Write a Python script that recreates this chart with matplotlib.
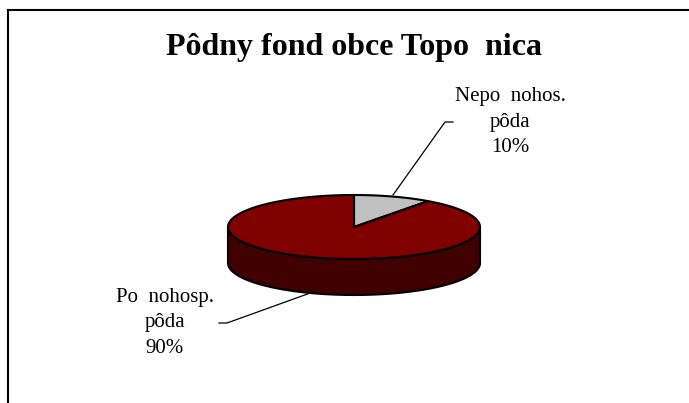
import matplotlib
matplotlib.use('Agg')
import matplotlib.pyplot as plt
from matplotlib.patches import Polygon
import numpy as np

title = 'Pôdny fond obce Topo  nica'
labels = ['Nepo  nohos.\npôda\n10%', 'Po  nohosp.\npôda\n90%']
values = [10, 90]
top_colors = ['#c0c0c0', '#800000']
side_colors = ['#606060', '#400000']

W, H = 689, 403
fig = plt.figure(figsize=(W / 100, H / 100), dpi=100)
ax = fig.add_axes([0, 0, 1, 1])
ax.set_xlim(0, W)
ax.set_ylim(H, 0)
ax.axis('off')

# outer frame (only top and left edges are visible)
ax.plot([8, W + 5], [10, 10], color='black', lw=1.5)
ax.plot([8, 8], [10, H + 5], color='black', lw=1.5)

ax.text(354, 47, title, ha='center', va='center', fontsize=23,
        fontweight='bold', family='Liberation Serif')

# pie geometry (pixels)
cx, cy = 354, 227
a, b = 126, 32
depth = 36


def pt(theta_deg, dy=0):
    # theta measured clockwise from 12 o'clock
    t = np.radians(theta_deg)
    return cx + a * np.sin(t), cy - b * np.cos(t) + dy


fracs = np.array(values) / sum(values)
bounds = np.concatenate([[0], np.cumsum(fracs) * 360])

# side walls (front half only: 90..270 degrees)
for i in range(len(values)):
    s, e = max(bounds[i], 90), min(bounds[i + 1], 270)
    if e <= s:
        continue
    th = np.linspace(s, e, 100)
    top = [pt(t) for t in th]
    bot = [pt(t, depth) for t in th[::-1]]
    ax.add_patch(Polygon(top + bot, closed=True, facecolor=side_colors[i],
                         edgecolor='black', lw=1.5, joinstyle='round'))

# top faces
for i in range(len(values)):
    th = np.linspace(bounds[i], bounds[i + 1], 200)
    verts = [(cx, cy)] + [pt(t) for t in th]
    ax.add_patch(Polygon(verts, closed=True, facecolor=top_colors[i],
                         edgecolor='black', lw=1.5, joinstyle='round'))

# labels with leader lines
ax.plot([393, 445, 453], [195, 122, 122], color='black', lw=0.9)
ax.text(510, 122, labels[0], ha='center', va='center', fontsize=15,
        family='Liberation Serif', linespacing=1.45)

ax.plot([313, 227, 219], [292, 323, 323], color='black', lw=0.9)
ax.text(165, 323, labels[1], ha='center', va='center', fontsize=15,
        family='Liberation Serif', linespacing=1.45)

fig.savefig('out.png', dpi=100)
